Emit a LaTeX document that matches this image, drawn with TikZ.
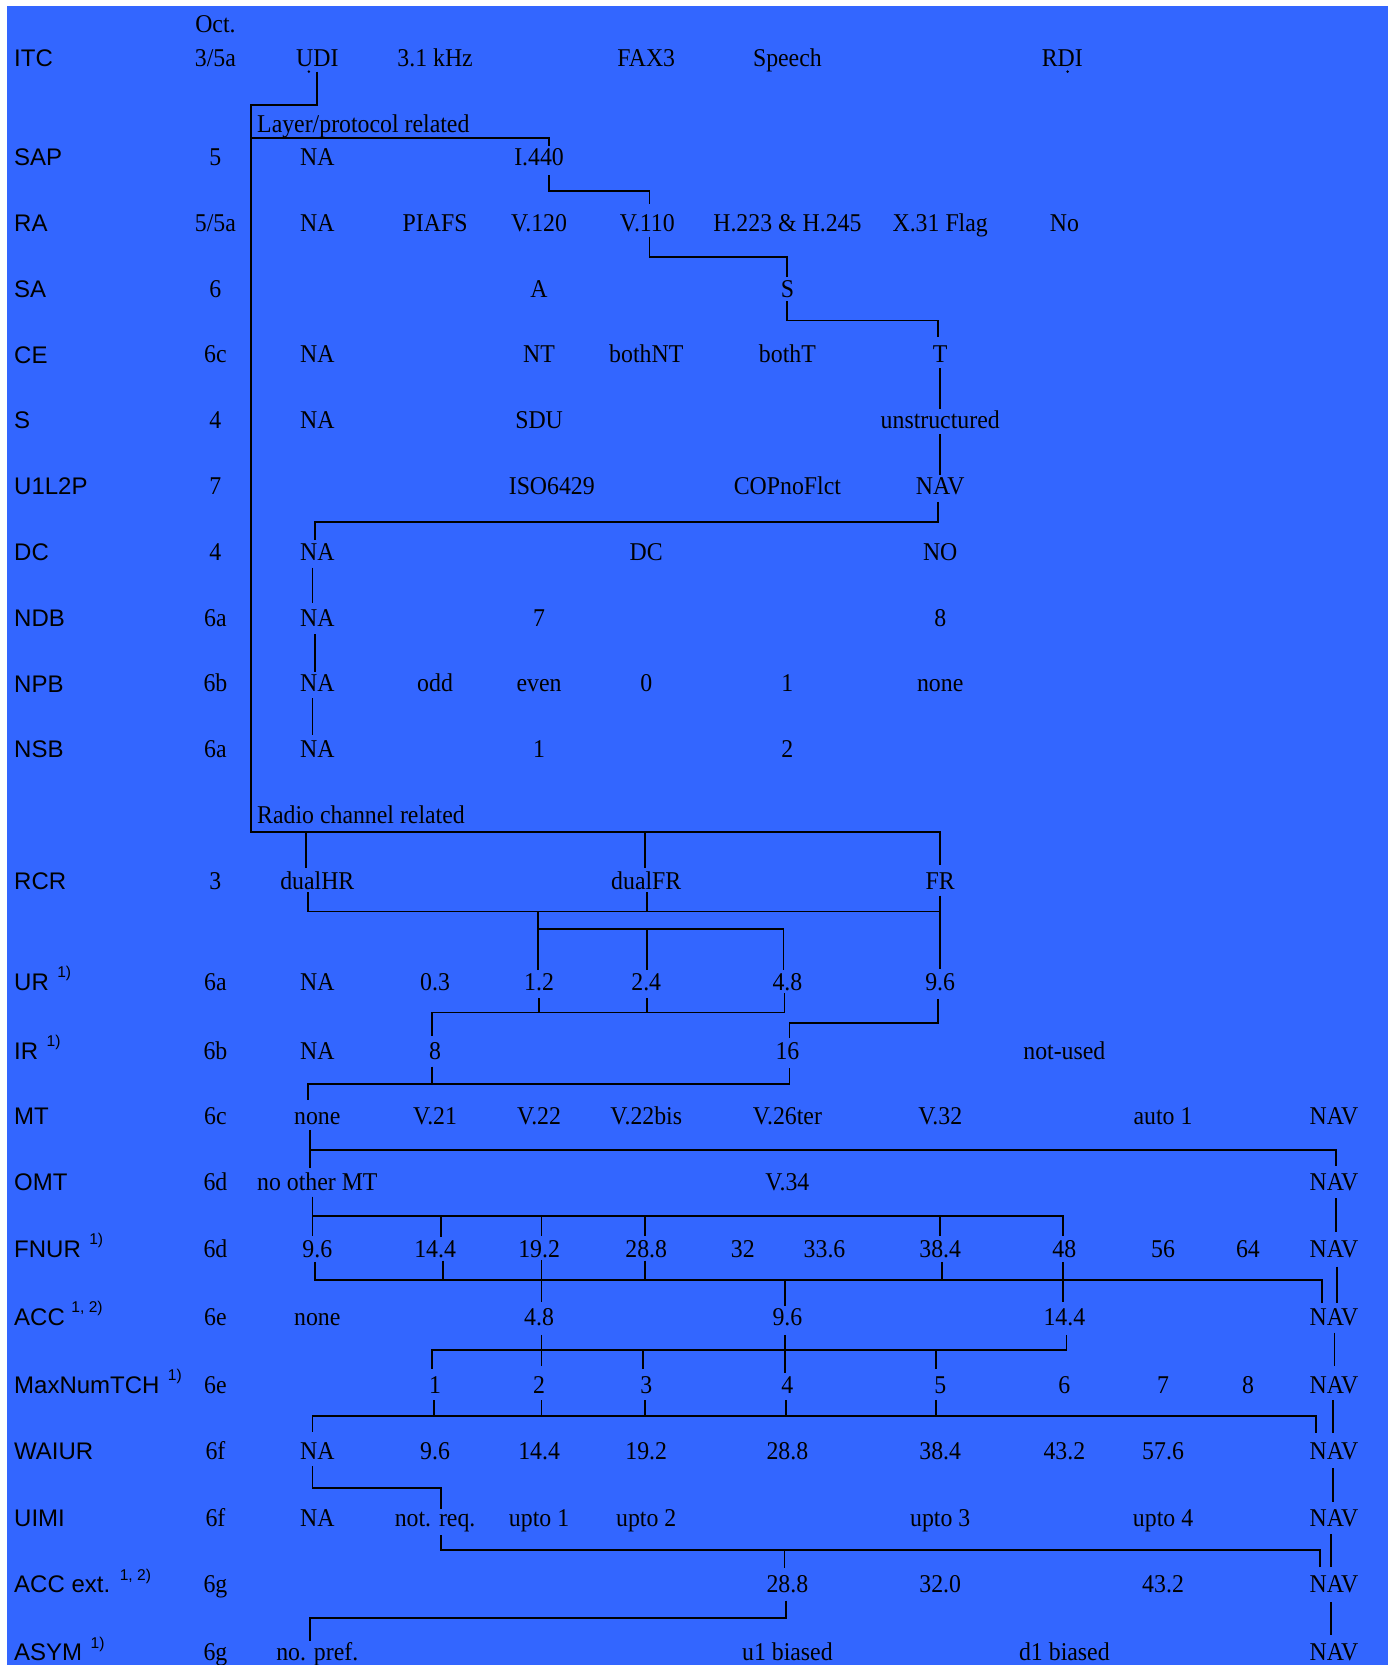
\documentclass[tikz,border=0pt]{standalone}
\usepackage{fontspec}
\setmainfont{Liberation Serif}[FakeStretch=0.93]
\setsansfont{Liberation Sans}
\usetikzlibrary{calc}
\definecolor{bg}{HTML}{3366FF}
\newcommand\supnote[2][4.2pt]{\hspace{#1}\raisebox{6.4pt}{\fontsize{7.8}{8}\selectfont #2}}
\begin{document}
\begin{tikzpicture}[x=0.5306pt,y=-0.5306pt,
  val/.style={font=\fontsize{12.8}{14}\selectfont,inner sep=0pt,text height=8.5pt,text depth=0pt},
  lab/.style={val,font=\sffamily\fontsize{12}{14}\selectfont,text height=8.6pt,anchor=west},
  hdr/.style={val,anchor=west},
  conn/.style={draw=black,line width=0.9pt}]
\useasboundingbox (0,0) rectangle (1308,1569);
\fill[bg] (6.7,5.7) rectangle (1308,1569);

% ---------- row labels ----------
\node[lab] (lITC) at (13,55) {ITC};
\node[lab] (lSAP) at (13,148) {SAP};
\node[lab] (lRA) at (13,210) {RA};
\node[lab] (lSA) at (13,272) {SA};
\node[lab] (lCE) at (13,334) {CE};
\node[lab] (lS) at (13,396) {S};
\node[lab] (lU1) at (13,458) {U1L2P};
\node[lab] (lDC) at (13,520) {DC};
\node[lab] (lNDB) at (13,582) {NDB};
\node[lab] (lNPB) at (13,644) {NPB};
\node[lab] (lNSB) at (13,706) {NSB};
\node[lab] (lRCR) at (13,830) {RCR};
\node[lab] (lUR) at (13,925) {UR\supnote{1)}};
\node[lab] (lIR) at (13,990) {IR\supnote{1)}};
\node[lab] (lMT) at (13,1052) {MT};
\node[lab] (lOMT) at (13,1114) {OMT};
\node[lab] (lFNUR) at (13,1177) {FNUR\supnote{1)}};
\node[lab] (lACC) at (13,1241) {ACC\supnote[3.3pt]{1, 2)}};
\node[lab] (lMAX) at (13,1305) {MaxNumTCH\supnote{1)}};
\node[lab] (lWAIUR) at (13,1367) {WAIUR};
\node[lab] (lUIMI) at (13,1430) {UIMI};
\node[lab] (lACCe) at (13,1493) {ACC ext.\supnote[4.8pt]{1, 2)}};
\node[lab] (lASYM) at (13,1557) {ASYM\supnote{1)}};

% ---------- octet column ----------
\node[val] (oct) at (203,23) {Oct.};
\node[val] (o1) at (203,55) {3/5a};
\node[val] (o2) at (203,148) {5};
\node[val] (o3) at (203,210) {5/5a};
\node[val] (o4) at (203,272) {6};
\node[val] (o5) at (203,334) {6c};
\node[val] (o6) at (203,396) {4};
\node[val] (o7) at (203,458) {7};
\node[val] (o8) at (203,520) {4};
\node[val] (o9) at (203,582) {6a};
\node[val] (o10) at (203,644) {6b};
\node[val] (o11) at (203,706) {6a};
\node[val] (o12) at (203,830) {3};
\node[val] (o13) at (203,925) {6a};
\node[val] (o14) at (203,990) {6b};
\node[val] (o15) at (203,1052) {6c};
\node[val] (o16) at (203,1114) {6d};
\node[val] (o17) at (203,1177) {6d};
\node[val] (o18) at (203,1241) {6e};
\node[val] (o19) at (203,1305) {6e};
\node[val] (o20) at (203,1367) {6f};
\node[val] (o21) at (203,1430) {6f};
\node[val] (o22) at (203,1493) {6g};
\node[val] (o23) at (203,1557) {6g};

% ---------- headers ----------
\node[hdr] (lpr) at (242,117) {Layer/protocol related};
\node[hdr] (rcr) at (242,768) {Radio channel related};

% ---------- values ----------
% ITC
\node[val] (udi) at (299,55) {UDI};
\node[val] (khz) at (410,55) {3.1 kHz};
\node[val] (fax) at (609,55) {FAX3};
\node[val] (speech) at (742,55) {Speech};
\node[val] (rdi) at (1001,55) {RDI};
% SAP
\node[val] (sapNA) at (299,148) {NA};
\node[val] (i440) at (508,148) {I.440};
% RA
\node[val] (raNA) at (299,210) {NA};
\node[val] (piafs) at (410,210) {PIAFS};
\node[val] (v120) at (508,210) {V.120};
\node[val] (v110) at (610,210) {V.110};
\node[val] (h223) at (742,210) {H.223 \& H.245};
\node[val] (x31) at (886,210) {X.31 Flag};
\node[val] (raNo) at (1003,210) {No};
% SA
\node[val] (saA) at (508,272) {A};
\node[val] (saS) at (742,272) {S};
% CE
\node[val] (ceNA) at (299,334) {NA};
\node[val] (ceNT) at (508,334) {NT};
\node[val] (bothNT) at (609,334) {bothNT};
\node[val] (bothT) at (742,334) {bothT};
\node[val] (ceT) at (886,334) {T};
% S
\node[val] (sNA) at (299,396) {NA};
\node[val] (sdu) at (508,396) {SDU};
\node[val] (unstr) at (886,396) {unstructured};
% U1L2P
\node[val] (iso) at (520,458) {ISO6429};
\node[val] (cop) at (742,458) {COPnoFlct};
\node[val] (uNAV) at (886,458) {NAV};
% DC
\node[val] (dcNA) at (299,520) {NA};
\node[val] (dcDC) at (609,520) {DC};
\node[val] (dcNO) at (886,520) {NO};
% NDB
\node[val] (ndbNA) at (299,582) {NA};
\node[val] (ndb7) at (508,582) {7};
\node[val] (ndb8) at (886,582) {8};
% NPB
\node[val] (npbNA) at (299,644) {NA};
\node[val] (odd) at (410,644) {odd};
\node[val] (even) at (508,644) {even};
\node[val] (npb0) at (609,644) {0};
\node[val] (npb1) at (742,644) {1};
\node[val] (npbnone) at (886,644) {none};
% NSB
\node[val] (nsbNA) at (299,706) {NA};
\node[val] (nsb1) at (508,706) {1};
\node[val] (nsb2) at (742,706) {2};
% RCR
\node[val] (dualHR) at (299,830) {dualHR};
\node[val] (dualFR) at (609,830) {dualFR};
\node[val] (fr) at (886,830) {FR};
% UR
\node[val] (urNA) at (299,925) {NA};
\node[val] (ur03) at (410,925) {0.3};
\node[val] (ur12) at (508,925) {1.2};
\node[val] (ur24) at (609,925) {2.4};
\node[val] (ur48) at (742,925) {4.8};
\node[val] (ur96) at (886,925) {9.6};
% IR
\node[val] (irNA) at (299,990) {NA};
\node[val] (ir8) at (410,990) {8};
\node[val] (ir16) at (742,990) {16};
\node[val] (notused) at (1003,990) {not-used};
% MT
\node[val] (mtnone) at (299,1052) {none};
\node[val] (v21) at (410,1052) {V.21};
\node[val] (v22) at (508,1052) {V.22};
\node[val] (v22bis) at (609,1052) {V.22bis};
\node[val] (v26) at (742,1052) {V.26ter};
\node[val] (v32) at (886,1052) {V.32};
\node[val] (auto) at (1096,1052) {auto 1};
\node[val] (mtNAV) at (1257,1052) {NAV};
% OMT
\node[val] (noother) at (299,1114) {no other MT};
\node[val] (v34) at (742,1114) {V.34};
\node[val] (omtNAV) at (1257,1114) {NAV};
% FNUR
\node[val] (f96) at (299,1177) {9.6};
\node[val] (f144) at (410,1177) {14.4};
\node[val] (f192) at (508,1177) {19.2};
\node[val] (f288) at (609,1177) {28.8};
\node[val] (f32) at (700,1177) {32};
\node[val] (f336) at (777,1177) {33.6};
\node[val] (f384) at (886,1177) {38.4};
\node[val] (f48) at (1003,1177) {48};
\node[val] (f56) at (1096,1177) {56};
\node[val] (f64) at (1176,1177) {64};
\node[val] (fNAV) at (1257,1177) {NAV};
% ACC
\node[val] (accnone) at (299,1241) {none};
\node[val] (a48) at (508,1241) {4.8};
\node[val] (a96) at (742,1241) {9.6};
\node[val] (a144) at (1003,1241) {14.4};
\node[val] (aNAV) at (1257,1241) {NAV};
% MaxNumTCH
\node[val] (m1) at (410,1305) {1};
\node[val] (m2) at (508,1305) {2};
\node[val] (m3) at (609,1305) {3};
\node[val] (m4) at (742,1305) {4};
\node[val] (m5) at (886,1305) {5};
\node[val] (m6) at (1003,1305) {6};
\node[val] (m7) at (1096,1305) {7};
\node[val] (m8) at (1176,1305) {8};
\node[val] (mNAV) at (1257,1305) {NAV};
% WAIUR
\node[val] (wNA) at (299,1367) {NA};
\node[val] (w96) at (410,1367) {9.6};
\node[val] (w144) at (508,1367) {14.4};
\node[val] (w192) at (609,1367) {19.2};
\node[val] (w288) at (742,1367) {28.8};
\node[val] (w384) at (886,1367) {38.4};
\node[val] (w432) at (1003,1367) {43.2};
\node[val] (w576) at (1096,1367) {57.6};
\node[val] (wNAV) at (1257,1367) {NAV};
% UIMI
\node[val] (uiNA) at (299,1430) {NA};
\node[val] (notreq) at (410,1430) {not. req.};
\node[val] (upto1) at (508,1430) {upto 1};
\node[val] (upto2) at (609,1430) {upto 2};
\node[val] (upto3) at (886,1430) {upto 3};
\node[val] (upto4) at (1096,1430) {upto 4};
\node[val] (uiNAV) at (1257,1430) {NAV};
% ACC ext.
\node[val] (e288) at (742,1493) {28.8};
\node[val] (e320) at (886,1493) {32.0};
\node[val] (e432) at (1096,1493) {43.2};
\node[val] (eNAV) at (1257,1493) {NAV};
% ASYM
\node[val] (nopref) at (299,1557) {no. pref.};
\node[val] (u1b) at (742,1557) {u1 biased};
\node[val] (d1b) at (1003,1557) {d1 biased};
\node[val] (asNAV) at (1257,1557) {NAV};

% ---------- bus coordinates ----------
\coordinate (busTop) at (236.6,99);
\coordinate (busL) at (236.6,129.7);
\coordinate (busBot) at (236.6,784.3);

% ---------- connectors ----------
\fill ($(udi)+(-8,12.5)$) circle[radius=0.7pt];
\fill ($(rdi)+(5,12.5)$) circle[radius=0.7pt];
\draw[conn] ($(udi)+(0,12.5)$) |- (busTop) -- (busBot) -| ($(fr)+(0,-15)$);
\draw[conn] (busL) -| ($(i440)+(9.5,-10)$);
\draw[conn] ($(i440)+(9.5,17)$) -- ++(0,14.7) -| ($(v110)+(2,-18)$);
\draw[conn] ($(v110)+(2,13)$) -- ++(0,19) -| ($(saS)+(-0.5,-11)$);
\draw[conn] ($(saS)+(-0.5,12)$) -- ++(0,18) -| ($(ceT)+(-2,-16)$);
\draw[conn] ($(ceT)+(0,13)$) -- ($(unstr)+(0,-10.4)$);
\draw[conn] ($(unstr)+(0,13)$) -- ($(uNAV)+(0,-10.4)$);
\draw[conn] ($(uNAV)+(-2,15)$) -- ++(0,18.6) -| ($(dcNA)+(-2.4,-11)$);
\draw[conn] ($(dcNA)+(-4.5,15)$) -- ($(ndbNA)+(-4.5,-14)$);
\draw[conn] ($(ndbNA)+(-2.4,15.6)$) -- ($(npbNA)+(-2.4,-11)$);
\draw[conn] ($(npbNA)+(-4.5,14)$) -- ($(nsbNA)+(-4.5,-13.4)$);

% radio channel related
\draw[conn] ($(dualHR)+(-10.4,-45.7)$) -- ($(dualHR)+(-10.4,-12)$);
\draw[conn] ($(dualFR)+(-1.5,-45.7)$) -- ($(dualFR)+(-1.5,-12)$);
\draw[conn] ($(dualHR)+(-8.7,11)$) |- ($(fr)+(0,29)$);
\draw[conn] ($(dualFR)+(0.6,11)$) -- ++(0,18);
\draw[conn] ($(fr)+(0,14)$) -- ($(ur96)+(0,-12)$);
\draw[conn] ($(ur12)+(-1,-66)$) -- ($(ur12)+(-1,-11)$);
\draw[conn] ($(ur12)+(-1,-49.3)$) -| ($(ur48)+(-3.6,-11)$);
\draw[conn] ($(ur24)+(0.6,-49.3)$) -- ($(ur24)+(0.6,-11)$);
% UR -> IR
\draw[conn] ($(ur48)+(-2.7,11)$) -- ++(0,18.2) -| ($(ir8)+(-3,-14)$);
\draw[conn] ($(ur12)+(-0.4,15.5)$) -- ++(0,13.5);
\draw[conn] ($(ur24)+(0.6,15.5)$) -- ++(0,13.5);
\draw[conn] ($(ur96)+(-2,16.4)$) -- ++(0,22.3) -| ($(ir16)+(2,-11.7)$);
% IR -> MT
\draw[conn] ($(ir16)+(2,16.6)$) -- ++(0,14.9) -| ($(mtnone)+(-8.7,-15.4)$);
\draw[conn] ($(ir8)+(-2.8,15)$) -- ++(0,16.5);
% MT -> OMT
\draw[conn] ($(mtnone)+(-6.7,12.8)$) -- ($(noother)+(-6.7,-13)$);
\draw[conn] ($(mtnone)+(-6.7,32)$) -| ($(omtNAV)+(2,-15.2)$);
% OMT -> FNUR
\draw[conn] ($(noother)+(-4.5,13.7)$) -- ($(f96)+(-4.5,-12.3)$);
\draw[conn] ($(noother)+(-4.5,31.9)$) -| ($(f48)+(-1,-12.3)$);
\draw[conn] ($(f144)+(5.6,-31.1)$) -- ($(f144)+(5.6,-11)$);
\draw[conn] ($(f192)+(2.3,-31.1)$) -- ($(f192)+(2.3,-12.3)$);
\draw[conn] ($(f288)+(-1.5,-31.1)$) -- ($(f288)+(-1.5,-12.3)$);
\draw[conn] ($(f384)+(0,-31.1)$) -- ($(f384)+(0,-12.3)$);
\draw[conn] ($(omtNAV)+(2,15.2)$) -- ($(fNAV)+(2,-16.4)$);
% FNUR -> ACC
\draw[conn] ($(f96)+(-2.4,12)$) -- ++(0,17.2) -| ($(aNAV)+(-11,-13)$);
\draw[conn] ($(f144)+(7.7,11)$) -- ++(0,18.2);
\draw[conn] ($(f192)+(2.3,10.3)$) -- ($(a48)+(2.3,-14.4)$);
\draw[conn] ($(f288)+(-1.5,11)$) -- ++(0,18.2);
\draw[conn] ($(f384)+(1.7,12)$) -- ++(0,17.2);
\draw[conn] ($(f48)+(-1,12)$) -- ($(a144)+(-1,-14.4)$);
\draw[conn] ($(a96)+(-2.5,-34.8)$) -- ($(a96)+(-2.5,-10.6)$);
\draw[conn] ($(fNAV)+(3,16.6)$) -- ($(aNAV)+(3,-13)$);
% ACC -> MaxNumTCH
\draw[conn] ($(a144)+(2,17)$) -- ++(0,14) -| ($(m1)+(-2.8,-15)$);
\draw[conn] ($(a48)+(2.3,17)$) -- ($(m2)+(2.3,-18)$);
\draw[conn] ($(m3)+(-3.2,-33)$) -- ($(m3)+(-3.2,-15)$);
\draw[conn] ($(a96)+(-2.5,17)$) -- ($(m4)+(-2.5,-11)$);
\draw[conn] ($(m5)+(-4.2,-33)$) -- ($(m5)+(-4.2,-15)$);
\draw[conn] ($(aNAV)+(0.5,14.8)$) -- ($(mNAV)+(0.5,-17.8)$);
% MaxNumTCH -> WAIUR
\draw[conn] ($(wNA)+(-4.5,-18)$) -- ++(0,-15) -| ($(wNAV)+(-17,-16.3)$);
\draw[conn] ($(m1)+(-0.7,14.3)$) -- ++(0,14.7);
\draw[conn] ($(m2)+(2.3,14.3)$) -- ++(0,14.7);
\draw[conn] ($(m3)+(-1.5,14.3)$) -- ++(0,14.7);
\draw[conn] ($(m4)+(-1.5,14.3)$) -- ++(0,14.7);
\draw[conn] ($(m5)+(-4.2,14.3)$) -- ++(0,14.7);
\draw[conn] ($(mNAV)+(-1,14.3)$) -- ($(wNAV)+(-1,-16.3)$);
% WAIUR -> UIMI
\draw[conn] ($(wNA)+(-4.5,14.5)$) -- ++(0,20.4) -| ($(notreq)+(5.6,-7.7)$);
\draw[conn] ($(wNAV)+(-1,16.6)$) -- ($(uiNAV)+(-1,-15)$);
% UIMI -> ACC ext.
\draw[conn] ($(notreq)+(5.6,16.5)$) -- ++(0,14.1) -| ($(eNAV)+(-13,-16.7)$);
\draw[conn] ($(e288)+(-2.7,-32.4)$) -- ($(e288)+(-2.7,-15)$);
\draw[conn] ($(uiNAV)+(-3,15.5)$) -- ($(eNAV)+(-3,-16.7)$);
% ACC ext. -> ASYM
\draw[conn] ($(e288)+(-1.3,15.4)$) -- ++(0,16) -| ($(nopref)+(-6.6,-10.6)$);
\draw[conn] ($(eNAV)+(-3,17)$) -- ($(asNAV)+(-3,-16.3)$);
\end{tikzpicture}
\end{document}
